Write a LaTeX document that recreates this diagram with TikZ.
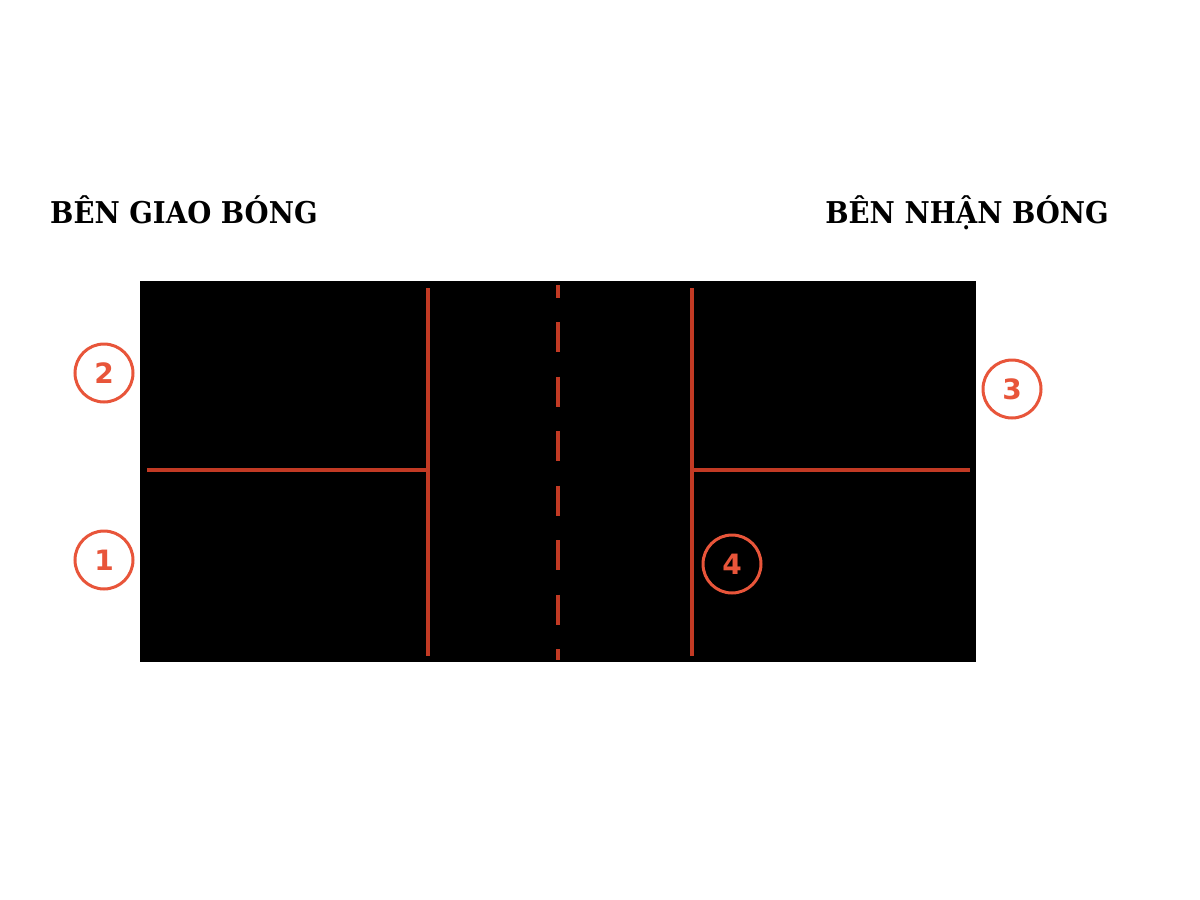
\documentclass[tikz,border=0pt]{standalone}
\usepackage{fontspec}
\setmainfont{DejaVu Serif}
\newfontfamily\numfont{DejaVu Sans}
\definecolor{courtred}{HTML}{C23A24}
\definecolor{ringred}{HTML}{E8553A}
\begin{document}
\begin{tikzpicture}[x=1pt,y=-1pt,
  courtline/.style={draw=courtred,line width=3.5pt},
  ring/.style={circle,draw=ringred,line width=3pt,minimum size=58pt,inner sep=0pt,
    font=\numfont\bfseries\fontsize{28}{28}\selectfont,text=ringred},
  sidelabel/.style={font=\bfseries\fontsize{30}{30}\selectfont,inner sep=0pt,text=black,xscale=0.92}]
\useasboundingbox (0,0) rectangle (1200,900);
\fill[black] (140,281) rectangle (976,662);
% court lines
\coordinate (lt) at (428,288);
\coordinate (lb) at (428,656);
\coordinate (rt) at (692,288);
\coordinate (rb) at (692,656);
\coordinate (lm) at (147,470);
\coordinate (lc) at (428,470);
\coordinate (rc) at (692,470);
\coordinate (rm) at (970,470);
\coordinate (ct) at (558,285);
\coordinate (cb) at (558,660);
\draw[courtline] (lt) -- (lb);
\draw[courtline] (rt) -- (rb);
\draw[courtline] (lm) -- (lc);
\draw[courtline] (rc) -- (rm);
\draw[courtline,line width=3.5pt,dash pattern=on 30pt off 24.5pt,dash phase=17.5pt] (ct) -- (cb);
% labels
\node[sidelabel,anchor=base west] (serve) at (50,223) {BÊN GIAO BÓNG};
\node[sidelabel,anchor=base east] (recv) at (1109,223) {BÊN NHẬN BÓNG};
% numbered rings
\node[ring,fill=white] (n2) at (104,373) {2};
\node[ring,fill=white] (n1) at (104,560) {1};
\node[ring,fill=white] (n3) at (1012,389) {3};
\node[ring] (n4) at (732,564) {4};
\end{tikzpicture}
\end{document}
